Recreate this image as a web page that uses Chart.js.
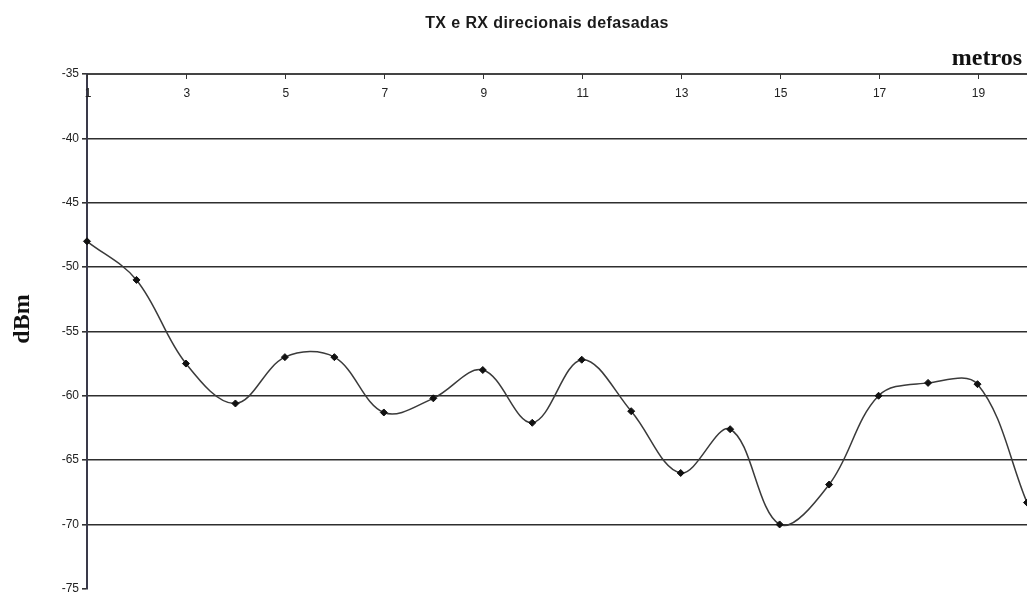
<!DOCTYPE html>
<html>
<head>
<meta charset="utf-8">
<title>TX e RX direcionais defasadas</title>
<script src="https://cdn.jsdelivr.net/npm/chart.js@4/dist/chart.umd.min.js"></script>
<style>
  html, body { margin: 0; padding: 0; background: #ffffff; }
  #wrap { width: 1027px; height: 599px; }
</style>
</head>
<body>
<div id="wrap"><canvas id="chart" width="1027" height="599"></canvas></div>
<script>
// Distance from the transmitter (metres) and received power (dBm)
const distances = ['1','2','3','4','5','6','7','8','9','10','11','12','13','14','15','16','17','18','19','20'];
const powerDbm = [-48, -51, -57.5, -60.6, -57, -57, -61.3, -60.2, -58, -62.1,
                  -57.2, -61.2, -66, -62.6, -70, -66.9, -60, -59, -59.1, -68.3];
const yMin = -75;
const yMax = -35;
const yStep = 5;

const chartTitle = 'TX e RX direcionais defasadas';
const xAxisTitle = 'metros';
const yAxisTitle = 'dBm';

const sansFont = "'Liberation Sans', Arial, sans-serif";
const serifFont = "'Liberation Serif', 'Times New Roman', serif";

// Titles, plus the labels and small downward tick marks of the top axis
const decorations = {
  id: 'decorations',
  afterDraw(chart) {
    const ctx = chart.ctx;
    const area = chart.chartArea;
    const x = chart.scales.x;
    ctx.save();

    // every other category gets a tick mark and a label below the axis line
    ctx.strokeStyle = '#333';
    ctx.lineWidth = 1;
    ctx.fillStyle = '#222';
    ctx.font = '12px ' + sansFont;
    ctx.textAlign = 'center';
    ctx.textBaseline = 'middle';
    distances.forEach((d, i) => {
      if (i % 2 !== 0) return;
      const px = x.getPixelForValue(i);
      const sx = Math.round(px) + 0.5;
      ctx.beginPath();
      ctx.moveTo(sx, area.top);
      ctx.lineTo(sx, area.top + 5);
      ctx.stroke();
      ctx.fillText(d, px + 1, area.top + 20);
    });

    // chart title
    ctx.fillStyle = '#1a1a1a';
    ctx.font = 'bold 16px ' + sansFont;
    ctx.letterSpacing = '0.4px';
    ctx.textAlign = 'center';
    ctx.textBaseline = 'alphabetic';
    ctx.fillText(chartTitle, 547, 28);
    ctx.letterSpacing = '0px';

    // x axis title, top right
    ctx.font = 'bold 24px ' + serifFont;
    ctx.textAlign = 'right';
    ctx.fillStyle = '#111';
    ctx.fillText(xAxisTitle, 1022, 65);

    // y axis title, rotated
    ctx.translate(29, 319);
    ctx.rotate(-Math.PI / 2);
    ctx.textAlign = 'center';
    ctx.textBaseline = 'alphabetic';
    ctx.fillText(yAxisTitle, 0, 0);
    ctx.restore();
  }
};

const whiteBg = {
  id: 'whiteBg',
  beforeDraw(chart) {
    const ctx = chart.ctx;
    ctx.save();
    ctx.fillStyle = '#ffffff';
    ctx.fillRect(0, 0, chart.width, chart.height);
    ctx.restore();
  }
};

new Chart(document.getElementById('chart'), {
  type: 'line',
  data: {
    labels: distances,
    datasets: [{
      data: powerDbm,
      borderColor: '#3a3a3a',
      borderWidth: 1.5,
      tension: 0.36,
      fill: false,
      clip: false,
      pointStyle: 'rectRot',
      pointRadius: 3.5,
      pointBackgroundColor: '#111',
      pointBorderColor: '#111',
      pointBorderWidth: 1
    }]
  },
  options: {
    responsive: false,
    animation: false,
    devicePixelRatio: 1,
    layout: { autoPadding: false, padding: { left: 0, right: 0, top: 0, bottom: 4 } },
    plugins: {
      legend: { display: false },
      title: { display: false },
      tooltip: { enabled: false }
    },
    scales: {
      x: {
        type: 'category',
        position: 'top',
        offset: false,
        grid: { display: false, drawTicks: false },
        border: { display: true, color: '#444', width: 2 },
        ticks: { display: false },
        afterFit(scale) { scale.height = 74; }
      },
      y: {
        type: 'linear',
        min: yMin,
        max: yMax,
        grid: {
          color: (c) => (c.tick && (c.tick.value === yMin || c.tick.value === yMax)) ? 'rgba(0,0,0,0)' : '#2e2e2e',
          lineWidth: 1.6,
          tickColor: '#333',
          tickLength: 5,
          drawTicks: true
        },
        border: { display: true, color: '#3a3a4a', width: 2 },
        ticks: {
          stepSize: yStep,
          padding: 3,
          color: '#222',
          font: { family: sansFont, size: 12 }
        },
        afterFit(scale) { scale.width = 87; }
      }
    }
  },
  plugins: [whiteBg, decorations]
});
</script>
</body>
</html>
